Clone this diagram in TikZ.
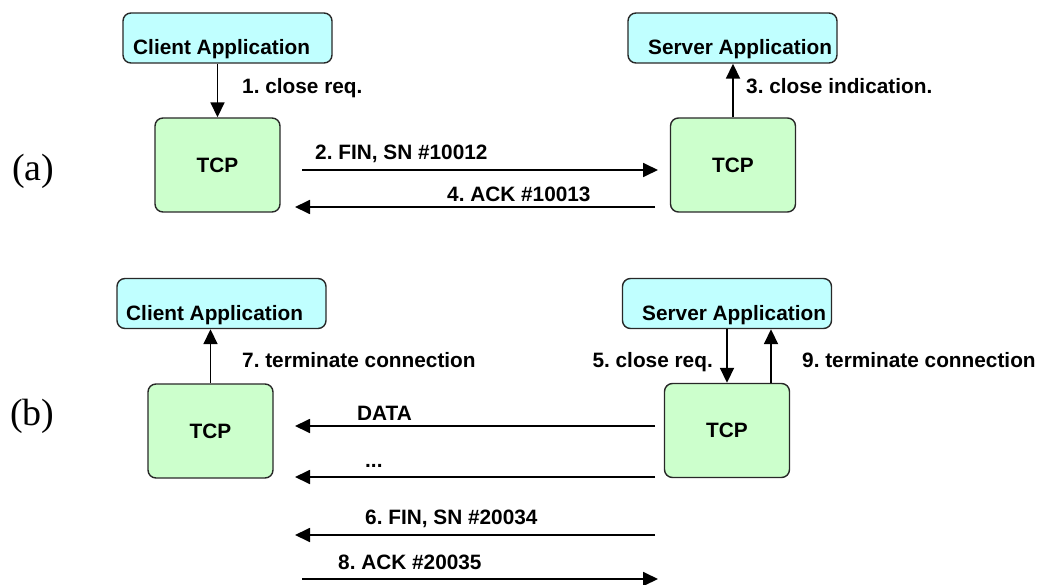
\documentclass[tikz,border=0pt]{standalone}
\usepackage{fontspec}
\setmainfont{Liberation Serif}
\setsansfont{Liberation Sans}
\usetikzlibrary{arrows.meta}
\frenchspacing

\definecolor{appcyan}{RGB}{192,255,255}
\definecolor{tcpgreen}{RGB}{204,255,204}
\definecolor{edge}{RGB}{40,40,40}

\begin{document}
\begin{tikzpicture}[x=1pt,y=-1pt,
  box/.style={draw=edge, line width=1.4pt, rounded corners=8pt, inner sep=0pt},
  appbox/.style={box, fill=appcyan, minimum width=209pt, minimum height=50pt},
  tcpbox/.style={box, fill=tcpgreen, minimum width=125pt, minimum height=94pt,
                 font=\sffamily\bfseries\fontsize{20.8}{24}\selectfont},
  lbl/.style={font=\sffamily\bfseries\fontsize{20.8}{24}\selectfont, inner sep=0pt, anchor=base west},
  lble/.style={lbl, anchor=base east},
  part/.style={font=\fontsize{38}{44}\selectfont, inner sep=0pt, anchor=base west},
  arr/.style={line width=1.8pt, -{Triangle[length=15pt,width=14pt]}}]

\useasboundingbox (0,0) rectangle (1041,585);

% ---------- (a) closing from the client side ----------
\node[part] (pa) at (12,181) {(a)};

\node[appbox] (ca) at (227.5,38) {};
\node[lbl] (catxt) at (133,55) {Client Application};
\node[tcpbox] (tca) at (217.5,165) {TCP};

\node[appbox] (sa) at (732.5,38) {};
\node[lbl] (satxt) at (648,55) {Server Application};
\node[tcpbox] (tsa) at (733,165) {TCP};

\draw[arr] (ca.south -| tca.north) -- (tca.north);
\node[lbl] (l1) at (242,94) {1. close req.};

\draw[arr] (tsa.north) -- (tsa.north |- sa.south);
\node[lbl] (l3) at (746,94) {3. close indication.};

\coordinate (a2s) at (302,170);
\coordinate (a2e) at (658,170);
\draw[arr] (a2s) -- (a2e);
\node[lbl] (l2) at (315,159.5) {2. FIN, SN \#10012};

\coordinate (a4s) at (655,207);
\coordinate (a4e) at (295,207);
\draw[arr] (a4s) -- (a4e);
\node[lbl] (l4) at (447,202) {4. ACK \#10013};

% ---------- (b) closing from the server side ----------
\node[part] (pb) at (10,425) {(b)};

\node[appbox] (cb) at (221.5,303.5) {};
\node[lbl] (cbtxt) at (126,320) {Client Application};
\node[tcpbox] (tcb) at (210.5,431) {TCP};

\node[appbox] (sb) at (727,303.5) {};
\node[lbl] (sbtxt) at (642,320) {Server Application};
\node[tcpbox] (tsb) at (727,430.5) {TCP};

\draw[arr] (tcb.north) -- (tcb.north |- cb.south);
\node[lbl] (l7) at (242,367) {7. terminate connection};

\draw[arr] (sb.south -| tsb.north) -- (tsb.north);
\node[lble] (l5) at (713,367) {5. close req.};

\draw[arr] ([xshift=44pt]tsb.north) -- ([xshift=44pt]tsb.north |- sb.south);
\node[lbl] (l9) at (802,367) {9. terminate connection};

\coordinate (bds) at (655,426);
\coordinate (bde) at (295,426);
\draw[arr] (bds) -- (bde);
\node[lbl] (ldata) at (357,420) {DATA};

\coordinate (bms) at (655,477);
\coordinate (bme) at (295,477);
\draw[arr] (bms) -- (bme);
\node[lbl] (ldots) at (365,467) {...};

\coordinate (b6s) at (655,535);
\coordinate (b6e) at (295,535);
\draw[arr] (b6s) -- (b6e);
\node[lbl] (l6) at (365,524) {6. FIN, SN \#20034};

\coordinate (b8s) at (302,579);
\coordinate (b8e) at (658,579);
\draw[arr] (b8s) -- (b8e);
\node[lbl] (l8) at (338,569) {8. ACK \#20035};

\end{tikzpicture}
\end{document}
